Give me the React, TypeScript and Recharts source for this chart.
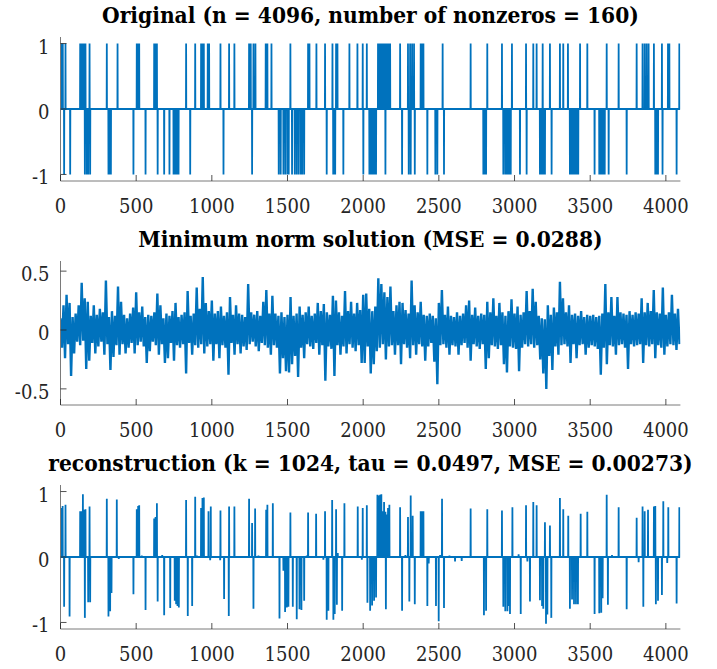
import React from 'react';
import { LineChart, Line, XAxis, YAxis } from 'recharts';

const N = 4096;
const X_TICKS = [0, 500, 1000, 1500, 2000, 2500, 3000, 3500, 4000];
const Y_TICKS_UNIT = [-1, 0, 1];
const Y_TICKS_HALF = [-0.5, 0, 0.5];

const TITLES = [
  'Original (n = 4096, number of nonzeros = 160)',
  'Minimum norm solution (MSE = 0.0288)',
  'reconstruction (k = 1024, tau = 0.0497, MSE = 0.00273)',
];

// Original signal: indices of +1 and -1 entries
const origPlus = [9, 15, 33, 130, 139, 148, 156, 165, 192, 306, 377, 504, 513, 520, 619, 628, 637, 830, 890, 929, 938, 947, 973, 982, 1057, 1114, 1149, 1246, 1257, 1275, 1288, 1356, 1367, 1394, 1519, 1636, 1645, 1691, 1748, 1797, 1821, 1830, 1909, 1962, 1997, 2024, 2098, 2107, 2116, 2125, 2134, 2142, 2151, 2160, 2169, 2178, 2244, 2296, 2310, 2323, 2336, 2380, 2389, 2398, 2525, 2710, 2820, 2917, 2983, 3076, 3124, 3146, 3186, 3234, 3300, 3322, 3353, 3433, 3481, 3609, 3688, 3807, 3846, 3860, 3873, 3886, 3921, 3974, 4014, 4023, 4089];
const origMinus = [24, 64, 161, 174, 183, 196, 317, 324, 333, 482, 562, 642, 685, 720, 747, 755, 764, 773, 780, 857, 1077, 1266, 1442, 1455, 1473, 1486, 1500, 1508, 1530, 1548, 1561, 1574, 1588, 1597, 1610, 1759, 1802, 1808, 1815, 1869, 2001, 2041, 2050, 2059, 2068, 2076, 2085, 2147, 2257, 2301, 2314, 2341, 2424, 2477, 2490, 2534, 2794, 2803, 2812, 2926, 2939, 2948, 2957, 2966, 2975, 3036, 3080, 3168, 3179, 3190, 3201, 3245, 3366, 3377, 3388, 3399, 3410, 3421, 3529, 3560, 3569, 3578, 3587, 3596, 3622, 3741, 3930, 3939, 3948, 3978, 4071];

// Minimum norm solution, read every 10 samples
const MN_STEP = 10;
const mnValues = [
  0.10,-0.15,0.21,-0.24,0.30,-0.12,0.23,-0.39,0.11,-0.20,0.14,-0.10,0.21,-0.13,0.40,-0.09,0.27,-0.33,0.24,-0.26,
  0.12,-0.11,0.21,-0.20,0.13,-0.14,0.18,-0.10,0.15,-0.21,0.42,-0.12,0.11,-0.34,0.16,-0.23,0.12,-0.13,0.37,-0.21,
  0.24,-0.12,0.13,-0.20,0.10,-0.15,0.14,-0.11,0.19,-0.20,0.32,-0.13,0.15,-0.10,0.20,-0.14,0.11,-0.28,0.13,-0.18,
  0.12,-0.10,0.15,-0.13,0.31,-0.21,0.21,-0.12,0.10,-0.28,0.14,-0.24,0.12,-0.11,0.16,-0.26,0.23,-0.13,0.11,-0.15,
  0.13,-0.12,0.15,-0.37,0.33,-0.11,0.12,-0.21,0.14,-0.13,0.36,-0.15,0.18,-0.12,0.45,-0.20,0.23,-0.14,0.16,-0.12,
  0.25,-0.26,0.14,-0.12,0.16,-0.24,0.20,-0.13,0.12,-0.15,0.15,-0.38,0.28,-0.11,0.13,-0.21,0.21,-0.12,0.14,-0.20,
  0.13,-0.14,0.11,-0.17,0.39,-0.12,0.15,-0.10,0.13,-0.14,0.16,-0.18,0.12,-0.11,0.24,-0.13,0.34,-0.15,0.14,-0.21,
  0.29,-0.13,0.14,-0.15,0.12,-0.37,0.15,-0.24,0.11,-0.35,0.13,-0.36,0.28,-0.29,0.12,-0.22,0.14,-0.40,0.20,-0.15,
  0.13,-0.24,0.15,-0.12,0.20,-0.14,0.12,-0.16,0.14,-0.11,0.23,-0.21,0.16,-0.13,0.22,-0.43,0.15,-0.14,0.13,-0.16,
  0.29,-0.39,0.25,-0.13,0.15,-0.21,0.12,-0.14,0.33,-0.20,0.16,-0.12,0.24,-0.15,0.14,-0.18,0.23,-0.13,0.17,-0.28,
  0.30,-0.28,0.31,-0.14,0.18,-0.37,0.16,-0.29,0.20,-0.18,0.44,-0.15,0.39,-0.12,0.32,-0.25,0.28,-0.14,0.37,-0.13,
  0.16,-0.21,0.21,-0.13,0.24,-0.29,0.23,-0.12,0.17,-0.15,0.14,-0.24,0.42,-0.13,0.21,-0.21,0.15,-0.12,0.24,-0.14,
  0.13,-0.26,0.12,-0.14,0.14,-0.11,0.12,-0.27,0.10,-0.46,0.23,-0.13,0.34,-0.12,0.13,-0.15,0.20,-0.21,0.12,-0.13,
  0.11,-0.14,0.15,-0.21,0.12,-0.13,0.14,-0.11,0.21,-0.15,0.25,-0.26,0.13,-0.12,0.19,-0.14,0.12,-0.16,0.14,-0.12,
  0.13,-0.33,0.24,-0.24,0.15,-0.13,0.27,-0.14,0.12,-0.16,0.23,-0.13,0.15,-0.29,0.12,-0.36,0.16,-0.14,0.26,-0.15,
  0.14,-0.16,0.20,-0.35,0.13,-0.15,0.15,-0.12,0.33,-0.14,0.16,-0.12,0.35,-0.15,0.24,-0.13,0.12,-0.25,0.10,-0.37,
  0.09,-0.50,0.21,-0.22,0.13,-0.34,0.19,-0.14,0.15,-0.21,0.41,-0.13,0.27,-0.12,0.15,-0.14,0.21,-0.28,0.13,-0.12,
  0.14,-0.24,0.12,-0.13,0.16,-0.12,0.11,-0.21,0.13,-0.15,0.12,-0.13,0.13,-0.14,0.11,-0.16,0.12,-0.38,0.14,-0.15,
  0.39,-0.29,0.15,-0.13,0.28,-0.14,0.12,-0.21,0.28,-0.13,0.15,-0.12,0.14,-0.15,0.13,-0.33,0.16,-0.12,0.13,-0.14,
  0.15,-0.13,0.14,-0.12,0.27,-0.28,0.15,-0.13,0.23,-0.14,0.16,-0.12,0.34,-0.24,0.15,-0.13,0.14,-0.15,0.36,-0.21,
  0.13,-0.14,0.15,-0.12,0.30,-0.13,0.14,-0.17,0.18,-0.12,
];

// Reconstruction: [index, value] of nonzero entries
const recEntries: [number, number][] = [
  [9,0.75],[14,0.78],[24,-0.76],[33,0.8],[60,-0.91],[130,0.7],[139,0.7],[148,0.96],[156,0.72],[161,-0.93],[165,0.73],[183,-0.69],[192,0.77],[196,-0.69],
  [306,0.89],[317,-0.91],[328,-0.83],[337,-0.55],[372,0.88],[385,-0.03],[482,-0.57],[504,0.73],[513,0.78],[520,0.79],[537,0.02],[562,-0.81],
  [619,0.59],[628,0.61],[637,0.82],[642,-0.68],[672,0.03],[685,-0.89],[725,-0.78],[755,-0.67],[764,-0.72],[773,-0.75],[782,-0.77],[830,0.87],[841,-0.9],
  [870,-0.75],[890,0.92],[901,0.02],[929,0.75],[938,0.9],[947,0.91],[978,0.7],[989,-0.05],[993,0.77],[1055,-0.05],[1057,0.71],[1081,-0.64],[1112,-0.9],
  [1114,0.77],[1149,0.77],[1246,0.89],[1266,0.52],[1275,-0.79],[1286,0.74],[1308,0.02],[1359,0.72],[1367,0.8],[1403,0.82],[1447,-0.94],[1473,-0.21],
  [1484,-0.84],[1495,-0.77],[1506,-0.76],[1519,0.68],[1535,-0.76],[1561,-0.95],[1579,-0.8],[1592,-0.81],[1610,-0.67],[1627,0.02],[1636,0.68],[1689,0.66],
  [1737,-0.04],[1748,0.7],[1759,-0.96],[1770,-0.82],[1795,0.87],[1803,-0.96],[1812,-0.87],[1821,0.73],[1826,-0.73],[1832,0.06],[1861,-0.82],[1876,0.82],
  [1964,0.77],[1991,-0.04],[1997,0.75],[2024,0.79],[2028,-0.7],[2046,-0.82],[2059,-0.74],[2072,-0.67],[2085,-0.62],[2094,0.95],[2103,0.94],[2112,0.95],
  [2120,0.96],[2129,0.7],[2138,0.84],[2147,0.69],[2150,-0.8],[2156,0.65],[2164,0.75],[2173,0.8],[2244,0.76],[2257,-0.82],[2279,0.03],[2296,0.61],
  [2305,-0.68],[2314,0.94],[2327,0.63],[2341,-0.72],[2380,0.7],[2389,0.7],[2398,0.7],[2424,-0.75],[2433,-0.1],[2481,-0.75],[2499,-0.98],[2508,0.03],
  [2521,0.89],[2534,-0.78],[2570,0.02],[2607,-0.07],[2651,-0.06],[2710,0.74],[2798,-0.89],[2812,-0.82],[2820,0.73],[2917,0.71],[2926,-0.76],[2939,-0.83],
  [2953,-0.83],[2961,-0.75],[2970,-0.87],[2986,0.76],[3027,0.04],[3041,-0.87],[3076,0.79],[3085,-0.07],[3102,-0.68],[3124,0.84],[3146,0.79],[3168,-0.66],
  [3182,-0.75],[3190,-0.79],[3201,0.53],[3208,-1.02],[3217,-0.88],[3234,0.48],[3243,-0.93],[3300,0.9],[3322,0.73],[3355,0.63],[3366,-0.79],[3380,-0.65],
  [3393,-0.72],[3406,-0.72],[3419,-0.72],[3437,0.66],[3481,0.69],[3529,-0.87],[3560,-0.86],[3573,-0.85],[3582,-0.63],[3609,0.95],[3617,-0.73],[3644,0.03],
  [3688,0.76],[3741,-0.8],[3807,0.6],[3820,-0.08],[3846,0.77],[3851,-0.76],[3860,0.7],[3882,0.72],[3921,0.77],[3930,0.78],[3934,-0.72],[3948,-0.67],
  [3974,-0.58],[3983,0.85],[4009,-0.09],[4016,0.76],[4071,-0.71],[4089,0.76],
];

function fullSeries(entries: [number, number][]) {
  const arr: number[] = new Array(N).fill(0);
  entries.forEach(([i, v]) => { arr[i] = v; });
  return arr.map((y, x) => ({ x, y }));
}

const origData = fullSeries([
  ...origPlus.map((i) => [i, 1] as [number, number]),
  ...origMinus.map((i) => [i, -1] as [number, number]),
]);
const mnData = mnValues.map((y, k) => ({ x: k * MN_STEP, y }));
const recData = fullSeries(recEntries);

const FONT = '"DejaVu Serif Condensed", "DejaVu Serif", serif';
const FS = 20;
const TITLE_FS = 22.5;
const LINE = '#0072BD';
const AXIS = '#7a7a7a';
const TICK = '#262626';
const W = 717;
const BOX_L = 60.5;
const BOX_R = 680.4;
const BOX_H = 144;
const MT = 10;
const XH = 45;

const BottomTick = (p: any) => (
  <g>
    <line x1={p.x} x2={p.x} y1={p.y} y2={p.y - 6} stroke={TICK} strokeWidth={0.8} />
    <text x={p.x} y={p.y + 32.3} textAnchor="middle" style={{ fontFamily: FONT, fontSize: FS }} fill="#262626">
      {p.payload.value}
    </text>
  </g>
);
const TopTick = (p: any) => (
  <line x1={p.x} x2={p.x} y1={p.y} y2={p.y + 6} stroke={TICK} strokeWidth={0.8} />
);
const LeftTick = (p: any) => (
  <g>
    <line x1={p.x} x2={p.x + 6} y1={p.y} y2={p.y} stroke={TICK} strokeWidth={0.8} />
    <text x={p.x - 11} y={p.y + 10} textAnchor="end" style={{ fontFamily: FONT, fontSize: FS }} fill="#262626">
      {String(p.payload.value)}
    </text>
  </g>
);
const RightTick = (p: any) => (
  <line x1={p.x} x2={p.x - 6} y1={p.y} y2={p.y} stroke={TICK} strokeWidth={0.8} />
);

function Panel(props: { top: number; data: { x: number; y: number }[]; yDomain: [number, number]; yTicks: number[]; lw: number }) {
  const { top, data, yDomain, yTicks, lw } = props;
  return (
    <div style={{ position: 'absolute', left: 0, top: top - MT }}>
      <LineChart
        width={W}
        height={BOX_H + MT + XH}
        data={data}
        margin={{ top: MT, right: W - BOX_R, bottom: 0, left: 0 }}
      >
        <XAxis dataKey="x" type="number" domain={[0, N]} ticks={X_TICKS} interval={0} allowDataOverflow height={XH}
          tickSize={0} tickMargin={0} tickLine={false} axisLine={{ stroke: AXIS, strokeWidth: 1 }} tick={<BottomTick />} />
        <XAxis xAxisId="top" orientation="top" dataKey="x" type="number" domain={[0, N]} ticks={X_TICKS} interval={0} allowDataOverflow height={0}
          tickSize={0} tickMargin={0} tickLine={false} axisLine={{ stroke: AXIS, strokeWidth: 1 }} tick={<TopTick />} />
        <YAxis type="number" domain={yDomain} ticks={yTicks} interval={0} allowDataOverflow width={BOX_L}
          tickSize={0} tickMargin={0} tickLine={false} axisLine={{ stroke: AXIS, strokeWidth: 1 }} tick={<LeftTick />} />
        <YAxis yAxisId="right" orientation="right" type="number" domain={yDomain} ticks={yTicks} interval={0} allowDataOverflow width={0}
          tickSize={0} tickMargin={0} tickLine={false} axisLine={{ stroke: AXIS, strokeWidth: 1 }} tick={<RightTick />} />
        <Line dataKey="y" type="linear" stroke={LINE} strokeWidth={lw} dot={false} activeDot={false} isAnimationActive={false} />
      </LineChart>
    </div>
  );
}

const BOX_TOPS = [36.7, 261, 485.3];

export default function App() {
  const cx = (BOX_L + BOX_R) / 2;
  return (
    <div style={{ position: 'absolute', left: 0, top: 0, width: W, height: 669, background: '#fff', overflow: 'hidden' }}>
      <Panel top={BOX_TOPS[0]} data={origData} yDomain={[-1.1, 1.1]} yTicks={Y_TICKS_UNIT} lw={1.8} />
      <Panel top={BOX_TOPS[1]} data={mnData} yDomain={[-0.637, 0.586]} yTicks={Y_TICKS_HALF} lw={2.4} />
      <Panel top={BOX_TOPS[2]} data={recData} yDomain={[-1.1, 1.1]} yTicks={Y_TICKS_UNIT} lw={1.8} />
      <svg width={W} height={669} style={{ position: 'absolute', left: 0, top: 0, pointerEvents: 'none' }}>
        {TITLES.map((t, i) => (
          <text key={t} x={cx} y={BOX_TOPS[i] - 14} textAnchor="middle" style={{ fontFamily: FONT, fontSize: TITLE_FS, fontWeight: 'bold' }} fill="#000">
            {t}
          </text>
        ))}
      </svg>
    </div>
  );
}
